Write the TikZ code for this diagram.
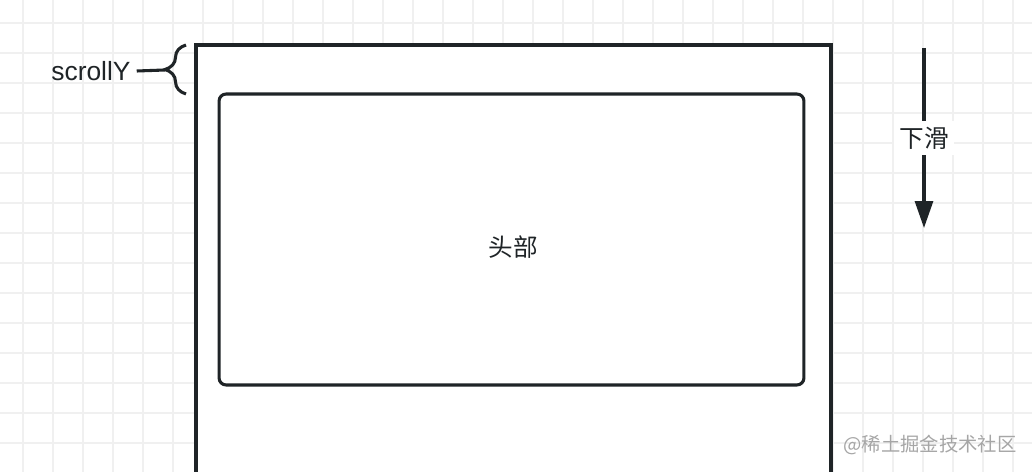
\documentclass[tikz,border=0pt]{standalone}
\usepackage{fontspec}
\setmainfont{Liberation Sans}
\newfontfamily\cjk{Noto Sans CJK SC}
\usetikzlibrary{positioning}
\usetikzlibrary{arrows.meta}
\usetikzlibrary{decorations.pathreplacing}
\definecolor{ink}{HTML}{1F2427}
\definecolor{gridline}{HTML}{F0F0F0}
\definecolor{markgray}{HTML}{A6A6A6}

\begin{document}
\begin{tikzpicture}[x=0.02cm, y=-0.02cm,
		frame/.style={draw=ink, line width=1.75pt},
		headbox/.style={frame, rounded corners=4pt, minimum width=11.7cm, minimum height=5.82cm},
		slide/.style={draw=ink, line width=1.75pt, -{Triangle[length=0.54cm, width=0.36cm]}},
		tag/.style={font=\fontsize{15}{17}\selectfont, text=ink},
		cjktag/.style={font=\cjk\fontsize{14}{16}\selectfont, text=ink}]
		
		\useasboundingbox (0,0) rectangle (1032,472);
		\clip (0,0) rectangle (1032,472);
		\fill[white] (0,0) rectangle (1032,472);
		
		% grid
		\foreach \x in {23,53,...,1023}
		\draw[gridline, line width=0.8pt] (\x,0) -- (\x,472);
		\foreach \y in {23,53,...,470}
		\draw[gridline, line width=0.8pt] (0,\y) -- (1032,\y);
		
		% page
		\fill[white] (196,45) rectangle (831,480);
		\draw[frame] (196,490) -- (196,45) -- (831,45) -- (831,490);
		
		\node[headbox] (head) at (511.5,239.5) {};
		\node[cjktag] (headText) at (513,247) {头部};
		
		% scrollY brace
		\coordinate (braceTop) at (186,45);
		\coordinate (braceBot) at (186,94);
		\coordinate (braceTip) at (165,70);
		\draw[frame, decorate, decoration={brace, amplitude=0.42cm}] (braceBot) -- (braceTop);
		\node[tag] (scroll) at (91,71) {scrollY};
		\draw[frame] (scroll.east) -- (braceTip);
		
		% slide down
		\coordinate (slideTop) at (924,48);
		\coordinate (slideEnd) at (924,228);
		\draw[slide] (slideTop) -- node[fill=white, cjktag] (down) {下滑} (slideEnd);
		
		\node[text=markgray, font=\cjk\fontsize{11}{13}\selectfont] (mark) at (930,445) {@稀土掘金技术社区};
		
	\end{tikzpicture}
\end{document}
